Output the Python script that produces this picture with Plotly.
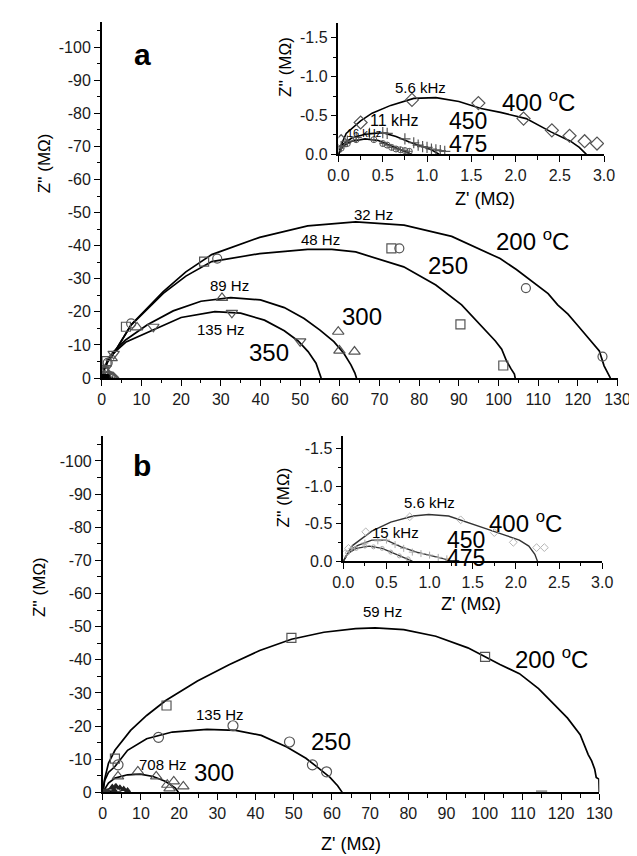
import plotly.graph_objects as go

W, H = 637, 856
FONT = "Liberation Sans, Arial, sans-serif"

# ---------------- Panel a, main (Z' in MOhm, Z'' in MOhm) ----------------
a200_fit_x = [0, 0.5, 1.5, 3.4, 7.4, 15.5, 21.2, 27.7, 39.8, 51.9, 64.0, 76.2, 88.2, 96.4, 100.4, 104.5, 108.5, 112.5, 114.9, 117.5, 119.8, 123.8, 125.4, 126.6, 127.9, 128.2]
a200_fit_y = [0, -2.2, -5.0, -8.2, -16.1, -26.1, -32.1, -37.3, -42.5, -46.0, -47.2, -46.2, -42.8, -38.4, -36.1, -32.8, -29.1, -25.5, -22.1, -19.3, -16.1, -10.2, -8.2, -3.7, -1.0, 0]
a200_mk_x = [0.6, 1.5, 7.4, 29.1, 75.0, 106.9, 126.2]
a200_mk_y = [-1.8, -4.6, -16.5, -36.1, -39.2, -27.2, -6.5]

a250_fit_x = [0, 0.5, 1.5, 3.4, 7.4, 15.5, 21.2, 27.7, 39.8, 51.9, 58.0, 64.0, 76.1, 84.2, 90.7, 95.5, 99.2, 100.8, 102.0, 103.2, 104.0, 104.2]
a250_fit_y = [0, -2.2, -5.0, -8.2, -16.0, -25.6, -30.8, -35.2, -37.6, -38.9, -38.9, -38.1, -33.6, -28.1, -22.1, -16.1, -11.2, -8.7, -5.2, -2.7, -1.2, 0]
a250_mk_x = [0.5, 1.2, 6.1, 25.8, 73.0, 90.4, 101.2]
a250_mk_y = [-2.0, -5.1, -15.5, -35.2, -39.2, -16.2, -3.8]

a300_fit_x = [0, 0.5, 1.5, 3.0, 6.0, 11.5, 18.0, 25.0, 32.5, 40.0, 46.0, 51.0, 55.0, 58.5, 61.0, 62.8, 63.8, 64.2]
a300_fit_y = [0, -2.5, -5.5, -8.0, -11.5, -16.1, -20.3, -23.2, -24.3, -23.6, -21.3, -18.0, -14.5, -11.0, -7.5, -4.0, -1.5, 0]
a300_mk_x = [0.8, 2.5, 8.9, 30.3, 59.6, 59.9, 63.7]
a300_mk_y = [-2.5, -6.0, -15.3, -24.2, -14.0, -8.3, -8.0]

a350_fit_x = [0, 0.5, 1.5, 3.0, 6.0, 13.1, 20.0, 28.5, 35.0, 41.0, 46.0, 49.5, 52.0, 54.0, 55.0, 55.3]
a350_fit_y = [0, -2.3, -5.0, -7.5, -10.8, -14.6, -18.3, -20.1, -19.6, -17.5, -14.3, -11.2, -8.0, -4.5, -1.5, 0]
a350_mk_x = [1.0, 3.0, 13.0, 32.8, 50.0]
a350_mk_y = [-3.0, -7.3, -15.5, -19.7, -11.1]

# ---------------- Panel a, inset (high temperatures) ----------------
a400_fit_x = [0, 0.03, 0.087, 0.25, 0.38, 0.59, 0.85, 1.10, 1.36, 1.61, 1.83, 2.12, 2.40, 2.62, 2.72, 2.80]
a400_fit_y = [0, -0.12, -0.27, -0.43, -0.53, -0.63, -0.72, -0.73, -0.68, -0.59, -0.54, -0.46, -0.29, -0.17, -0.09, 0]
a400_mk_x = [0.03, 0.25, 0.83, 1.58, 2.09, 2.41, 2.61, 2.78, 2.92]
a400_mk_y = [-0.17, -0.41, -0.70, -0.66, -0.46, -0.31, -0.24, -0.17, -0.14]

a450_fit_x = [0, 0.05, 0.15, 0.30, 0.50, 0.65, 0.80, 0.95, 1.05, 1.14]
a450_fit_y = [0, -0.13, -0.21, -0.26, -0.28, -0.23, -0.16, -0.10, -0.06, 0]
a450_mk_x = [0.03, 0.10, 0.20, 0.35, 0.50, 0.55, 0.75, 0.85, 0.90, 0.95, 1.00, 1.05, 1.10, 1.15, 1.20]
a450_mk_y = [-0.10, -0.17, -0.22, -0.27, -0.28, -0.27, -0.20, -0.15, -0.12, -0.10, -0.09, -0.07, -0.06, -0.05, -0.04]

a475_fit_x = [0, 0.05, 0.15, 0.30, 0.45, 0.60, 0.70, 0.83]
a475_fit_y = [0, -0.11, -0.17, -0.20, -0.18, -0.11, -0.06, 0]
a475_mk_x = [0.03, 0.10, 0.20, 0.40, 0.50, 0.55, 0.60, 0.65, 0.70, 0.75, 0.80]
a475_mk_y = [-0.08, -0.14, -0.19, -0.19, -0.14, -0.12, -0.09, -0.07, -0.06, -0.05, -0.04]

# ---------------- Panel b, main ----------------
b200_fit_x = [0, 0.5, 1.5, 3.2, 7.3, 11.5, 16.5, 24.8, 33.2, 41.1, 49.4, 57.9, 66.2, 71.3, 78.8, 87.2, 95.6, 100.1, 104.0, 109.1, 114.1, 118.3, 121.7, 125.0, 127.1, 128.0, 128.8, 129.2, 129.9, 130.0]
b200_fit_y = [0, -4.0, -8.8, -12.7, -18.7, -23.2, -27.7, -33.6, -38.6, -42.8, -46.2, -48.3, -49.4, -49.6, -49.1, -47.1, -43.6, -40.9, -38.6, -35.8, -31.3, -26.4, -22.4, -17.4, -11.4, -9.5, -7.0, -4.5, -4.0, 0]
b200_mk_x = [3.2, 16.7, 49.4, 100.1]
b200_mk_y = [-10.2, -26.2, -46.6, -40.9]
b200_stray_x = [114.9]
b200_stray_y = [-0.3]

b250_fit_x = [0, 0.5, 1.5, 3.2, 6.5, 11.5, 18.2, 27.3, 34.8, 41.5, 48.2, 53.2, 56.5, 59.5, 61.5, 62.7]
b250_fit_y = [0, -3.5, -6.0, -7.8, -12.7, -16.2, -18.2, -19.0, -18.7, -17.2, -13.7, -10.3, -7.3, -4.5, -2.0, 0]
b250_mk_x = [4.0, 14.6, 34.1, 48.9, 54.9, 58.6]
b250_mk_y = [-8.3, -16.6, -20.1, -15.2, -8.3, -6.2]

b300_fit_x = [0, 1.5, 3.2, 6.5, 9.8, 13.2, 16.5, 19.0, 19.8]
b300_fit_y = [0, -2.8, -4.3, -5.3, -5.5, -4.8, -3.3, -1.3, 0]
b300_mk_x = [3.3, 4.0, 9.2, 14.0, 16.9, 17.5, 18.6, 21.1]
b300_mk_y = [-1.0, -4.8, -6.3, -4.8, -2.3, -1.2, -3.3, -1.8]

b350_fit_x = [0, 1.0, 2.5, 4.0, 5.5, 6.8, 7.2]
b350_fit_y = [0, -0.8, -1.4, -1.5, -1.1, -0.4, 0]
b350_mk_x = [2.5, 3.0, 3.5, 4.5, 5.5, 6.5]
b350_mk_y = [-1.6, -0.7, -1.8, -1.4, -1.0, -0.6]

# ---------------- Panel b, inset ----------------
b400_fit_x = [0, 0.11, 0.33, 0.55, 0.81, 0.99, 1.22, 1.44, 1.66, 1.89, 2.04, 2.15, 2.22, 2.25]
b400_fit_y = [0, -0.21, -0.40, -0.52, -0.60, -0.62, -0.60, -0.52, -0.43, -0.34, -0.28, -0.20, -0.09, 0]
b400_mk_x = [0.02, 0.06, 0.26, 0.77, 1.36, 1.75, 1.97, 2.24, 2.33]
b400_mk_y = [-0.10, -0.17, -0.39, -0.59, -0.55, -0.38, -0.25, -0.18, -0.18]

b450_fit_x = [0, 0.07, 0.17, 0.33, 0.50, 0.67, 0.85, 1.02, 1.17, 1.22]
b450_fit_y = [0, -0.14, -0.21, -0.28, -0.28, -0.19, -0.12, -0.07, -0.03, 0]
b450_mk_x = [0.10, 0.25, 0.40, 0.50, 0.60, 0.70, 0.80, 0.90, 1.00, 1.10, 1.20]
b450_mk_y = [-0.17, -0.24, -0.27, -0.28, -0.22, -0.17, -0.12, -0.10, -0.08, -0.05, -0.03]

b475_fit_x = [0, 0.05, 0.15, 0.30, 0.45, 0.60, 0.70, 0.80]
b475_fit_y = [0, -0.10, -0.17, -0.20, -0.17, -0.10, -0.05, 0]
b475_mk_x = [0.05, 0.15, 0.25, 0.35, 0.45, 0.55, 0.65, 0.75]
b475_mk_y = [-0.11, -0.17, -0.20, -0.19, -0.17, -0.12, -0.07, -0.03]

# tick labels
main_x_ticks = list(range(0, 131, 10))
main_y_ticks = list(range(0, -101, -10))
main_y_text = [str(v) for v in main_y_ticks]
ins_x_ticks = [0, 0.5, 1.0, 1.5, 2.0, 2.5, 3.0]
ins_x_text = ["0.0", "0.5", "1.0", "1.5", "2.0", "2.5", "3.0"]
ins_y_ticks = [0, -0.5, -1.0, -1.5]
ins_y_text = ["0.0", "-0.5", "-1.0", "-1.5"]

fig = go.Figure()

MK = "#555555"


def curve(x, y, xa, ya, width=1.7, color="black"):
    fig.add_trace(go.Scatter(x=x, y=y, mode="lines", xaxis=xa, yaxis=ya,
                             line=dict(color=color, width=width), showlegend=False,
                             hoverinfo="skip"))


def marks(x, y, xa, ya, symbol, size=9, color=MK, lw=1.2):
    fig.add_trace(go.Scatter(x=x, y=y, mode="markers", xaxis=xa, yaxis=ya,
                             marker=dict(symbol=symbol, size=size, color=color,
                                         line=dict(color=color, width=lw)),
                             showlegend=False, hoverinfo="skip"))


# panel a main
curve(a200_fit_x, a200_fit_y, "x", "y")
curve(a250_fit_x, a250_fit_y, "x", "y")
curve(a300_fit_x, a300_fit_y, "x", "y")
curve(a350_fit_x, a350_fit_y, "x", "y")
marks(a200_mk_x, a200_mk_y, "x", "y", "circle-open")
marks(a250_mk_x, a250_mk_y, "x", "y", "square-open")
marks(a300_mk_x, a300_mk_y, "x", "y", "triangle-up-open", size=10)
marks(a350_mk_x, a350_mk_y, "x", "y", "triangle-down-open", size=10)
# high-temperature data seen at the main scale (near origin)
curve(a400_fit_x, a400_fit_y, "x", "y")
marks(a400_mk_x, a400_mk_y, "x", "y", "diamond-open", size=8)
marks(a450_mk_x, a450_mk_y, "x", "y", "square", size=5, color="black")
marks(a475_mk_x, a475_mk_y, "x", "y", "square", size=5, color="black")

# panel a inset
curve(a400_fit_x, a400_fit_y, "x2", "y2", width=1.6)
curve(a450_fit_x, a450_fit_y, "x2", "y2", width=1.6)
curve(a475_fit_x, a475_fit_y, "x2", "y2", width=1.6)
marks(a400_mk_x, a400_mk_y, "x2", "y2", "diamond-open", size=10)
marks(a450_mk_x, a450_mk_y, "x2", "y2", "cross-thin-open", size=8)
marks(a475_mk_x, a475_mk_y, "x2", "y2", "circle-cross-open", size=6, lw=1.0)

# panel b main
curve(b200_fit_x, b200_fit_y, "x3", "y3")
curve(b250_fit_x, b250_fit_y, "x3", "y3")
curve(b300_fit_x, b300_fit_y, "x3", "y3")
curve(b350_fit_x, b350_fit_y, "x3", "y3", width=1.4)
marks(b200_mk_x, b200_mk_y, "x3", "y3", "square-open")
marks(b200_stray_x, b200_stray_y, "x3", "y3", "line-ew-open", size=8, color="#999999", lw=2)
marks(b250_mk_x, b250_mk_y, "x3", "y3", "circle-open", size=10)
marks(b300_mk_x, b300_mk_y, "x3", "y3", "triangle-up-open", size=10)
marks(b350_mk_x, b350_mk_y, "x3", "y3", "triangle-up", size=5, color="#222222")
curve(b400_fit_x, b400_fit_y, "x3", "y3", width=1.4)
marks(b450_mk_x, b450_mk_y, "x3", "y3", "square", size=4, color="#333333")

# panel b inset
curve(b400_fit_x, b400_fit_y, "x4", "y4", width=1.4, color="#333333")
curve(b450_fit_x, b450_fit_y, "x4", "y4", width=1.4, color="#333333")
curve(b475_fit_x, b475_fit_y, "x4", "y4", width=1.4, color="#333333")
marks(b400_mk_x, b400_mk_y, "x4", "y4", "diamond-open", size=6, color="#b5b5b5", lw=1)
marks(b450_mk_x, b450_mk_y, "x4", "y4", "cross-thin-open", size=5, color="#aaaaaa", lw=1)
marks(b475_mk_x, b475_mk_y, "x4", "y4", "circle-open", size=4, color="#aaaaaa", lw=1)


def px(x):
    return x / W


def py(y):
    return 1 - y / H


def axis_common(tickvals, ticktext, minor_vals, rng, domain, anchor, fs=16):
    return dict(range=rng, domain=domain, anchor=anchor, showgrid=False, zeroline=False,
                showline=True, linecolor="black", linewidth=1.5,
                ticks="outside", ticklen=6, tickwidth=1.3, tickcolor="black",
                tickmode="array", tickvals=tickvals, ticktext=ticktext,
                tickfont=dict(family=FONT, size=fs, color="#1a1a1a"),
                minor=dict(ticks="outside", ticklen=3.5, tickwidth=1.1, tickcolor="black",
                           tickmode="array", tickvals=minor_vals),
                fixedrange=True)


main_x_minor = [v + 5 for v in range(0, 130, 10)]
main_y_minor = [-(v + 5) for v in range(0, 106, 10)]
ins_x_minor = [0.25, 0.75, 1.25, 1.75, 2.25, 2.75]
ins_y_minor = [-0.25, -0.75, -1.25]

layout_axes = dict(
    xaxis=axis_common(main_x_ticks, [str(v) for v in main_x_ticks], main_x_minor,
                      [0, 130], [px(86), px(622)], "y"),
    yaxis=axis_common(main_y_ticks, main_y_text, main_y_minor,
                      [0, -107.5], [py(374), py(14.4)], "x"),
    xaxis2=axis_common(ins_x_ticks, ins_x_text, ins_x_minor,
                       [0, 3.0], [px(332), px(608)], "y2"),
    yaxis2=axis_common(ins_y_ticks, ins_y_text, ins_y_minor,
                       [0, -1.69], [py(148), py(15)], "x2"),
    xaxis3=axis_common(main_x_ticks, [str(v) for v in main_x_ticks], main_x_minor,
                       [0, 130], [px(87), px(603)], "y3"),
    yaxis3=axis_common(main_y_ticks, main_y_text, main_y_minor,
                       [0, -107.5], [py(792.7), py(432.6)], "x3"),
    xaxis4=axis_common(ins_x_ticks, ins_x_text, ins_x_minor,
                       [0, 3.0], [px(337), px(606)], "y4"),
    yaxis4=axis_common(ins_y_ticks, ins_y_text, ins_y_minor,
                       [0, -1.66], [py(559), py(433)], "x4"),
)

ann = []


def label(text, x, y, xr, yr, size, bold=False):
    t = "<b>%s</b>" % text if bold else text
    ann.append(dict(text=t, x=x, y=y, xref=xr, yref=yr, showarrow=False,
                    xanchor="center", yanchor="middle",
                    font=dict(family=FONT, size=size, color="black")))


DEG = "<sup>o</sup>C"
# panel a main
label("a", 10.2, -97.8, "x", "y", 30, bold=True)
label("32 Hz", 68.5, -49.5, "x", "y", 15)
label("48 Hz", 55.2, -41.8, "x", "y", 15)
label("200 " + DEG, 108.6, -41.6, "x", "y", 24)
label("250", 87.3, -34.1, "x", "y", 24)
label("89 Hz", 32.1, -27.9, "x", "y", 15)
label("135 Hz", 30.1, -14.6, "x", "y", 15)
label("300", 65.5, -18.7, "x", "y", 24)
label("350", 42.2, -7.7, "x", "y", 24)
# panel a inset
label("5.6 kHz", 0.93, -0.86, "x2", "y2", 15)
label("11 kHz", 0.63, -0.43, "x2", "y2", 16)
label("16 kHz", 0.29, -0.27, "x2", "y2", 11)
label("400 " + DEG, 2.26, -0.69, "x2", "y2", 24)
label("450", 1.46, -0.43, "x2", "y2", 23)
label("475", 1.46, -0.13, "x2", "y2", 23)
# panel b main
label("b", 10.3, -98.7, "x3", "y3", 30, bold=True)
label("59 Hz", 73.3, -54.5, "x3", "y3", 15)
label("200 " + DEG, 117.4, -40.6, "x3", "y3", 24)
label("135 Hz", 30.7, -23.5, "x3", "y3", 15)
label("250", 59.7, -15.2, "x3", "y3", 24)
label("708 Hz", 15.9, -8.3, "x3", "y3", 15)
label("300", 29.2, -5.9, "x3", "y3", 24)
# panel b inset
label("5.6 kHz", 1.0, -0.78, "x4", "y4", 15)
label("15 kHz", 0.61, -0.38, "x4", "y4", 15)
label("400 " + DEG, 2.11, -0.52, "x4", "y4", 24)
label("450", 1.42, -0.28, "x4", "y4", 23)
label("475", 1.42, -0.04, "x4", "y4", 23)


# axis titles (paper positioned)
def title(text, x, y, size, angle=0):
    ann.append(dict(text=text, x=px(x), y=py(y), xref="paper", yref="paper",
                    showarrow=False, textangle=angle, xanchor="center", yanchor="middle",
                    font=dict(family=FONT, size=size, color="black")))


title("Z'' (MΩ)", 26, 157, 17, -90)
title("Z'' (MΩ)", 22, 585, 17, -90)
title("Z'' (MΩ)", 277, 60, 17, -90)
title("Z'' (MΩ)", 275, 495, 17, -90)
title("Z' (MΩ)", 484, 193, 18)
title("Z' (MΩ)", 470, 602, 18)
title("Z' (MΩ)", 345, 845, 18)

fig.update_layout(width=W, height=H, autosize=False,
                  margin=dict(l=0, r=0, t=0, b=0),
                  paper_bgcolor="white", plot_bgcolor="rgba(0,0,0,0)",
                  showlegend=False, annotations=ann, **layout_axes)

fig.write_html("out.html")
